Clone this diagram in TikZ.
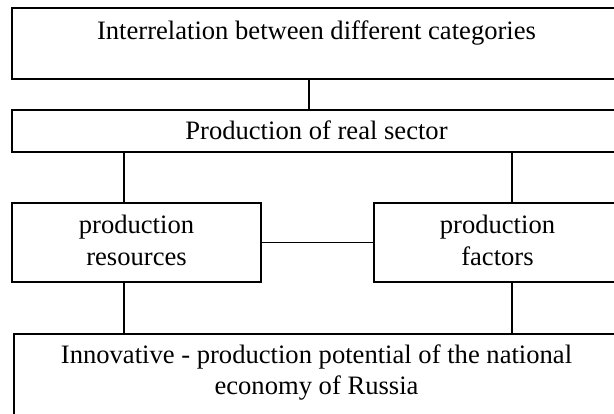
\documentclass[tikz,border=0pt]{standalone}
\usepackage{fontspec}
\setmainfont{Liberation Serif}
\begin{document}
\begin{tikzpicture}[x=1pt,y=-1pt,
  box/.style={draw,line width=1.2pt,inner sep=0pt},
  label/.style={font=\fontsize{26.6}{32}\selectfont,align=center,anchor=base,inner sep=0pt},
  link/.style={line width=1.2pt}]
\useasboundingbox (0,0) rectangle (614,414);
\clip (0,0) rectangle (614,414);
% boxes
\node[box,minimum width=609pt,minimum height=71pt] (top) at (316.5,43.5) {};
\node[box,minimum width=609pt,minimum height=42pt] (real) at (316.5,131) {};
\node[box,minimum width=249pt,minimum height=79pt] (res) at (136.5,242.5) {};
\node[box,minimum width=247pt,minimum height=79pt] (fac) at (497.5,242.5) {};
\node[box,minimum width=605pt,minimum height=96pt] (pot) at (316.5,382) {};
% texts (base anchor sits on the last line)
\node[label] (ttop) at (316.5,40) {Interrelation between different categories};
\node[label] (treal) at (316.5,140) {Production of real sector};
\node[label] (tres) at (136.5,265.5) {production\\resources};
\node[label] (tfac) at (497.5,265.5) {production\\factors};
\node[label,font=\fontsize{26.6}{31}\selectfont] (tpot) at (316.5,395) {Innovative - production potential of the national\\economy of Russia};
% connectors
\coordinate (xm) at (309,0);
\coordinate (xl) at (124,0);
\coordinate (xr) at (512,0);
\draw[link] (top.south -| xm) -- (real.north -| xm);
\draw[link] (real.south -| xl) -- (res.north -| xl);
\draw[link] (real.south -| xr) -- (fac.north -| xr);
\draw[link] (res.east) -- (fac.west);
\draw[link] (res.south -| xl) -- (pot.north -| xl);
\draw[link] (fac.south -| xr) -- (pot.north -| xr);
\end{tikzpicture}
\end{document}
